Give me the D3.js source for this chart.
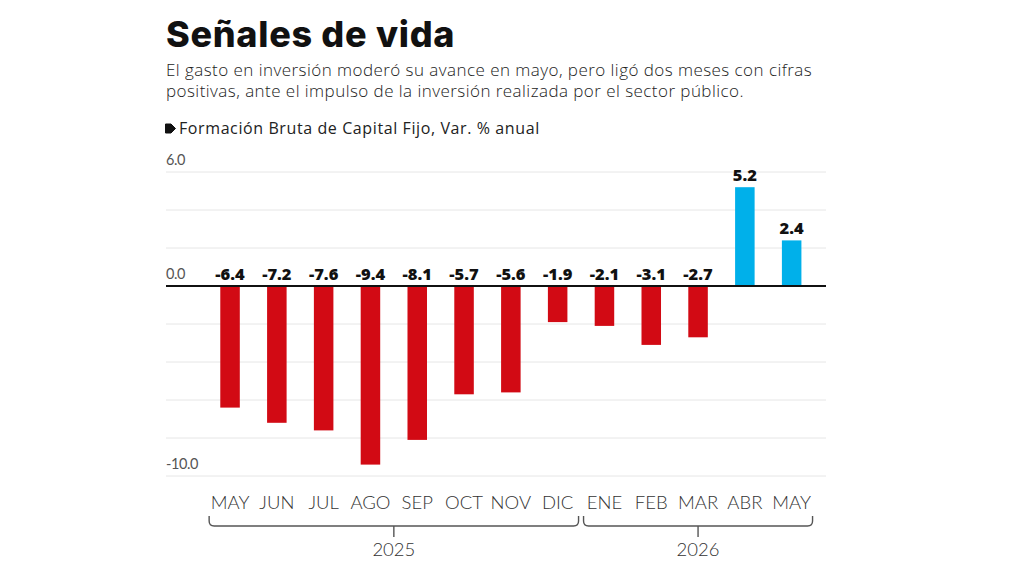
<!DOCTYPE html>
<html>
<head>
<meta charset="utf-8">
<script src="https://cdn.jsdelivr.net/npm/d3@7"></script>
<style>
  html, body { margin: 0; padding: 0; background: #fff; }
  svg { display: block; }
</style>
</head>
<body>
<svg id="chart" width="1024" height="576"></svg>
<script>
// ---- data ----
const months = ["MAY","JUN","JUL","AGO","SEP","OCT","NOV","DIC","ENE","FEB","MAR","ABR","MAY"];
const years  = ["2025","2025","2025","2025","2025","2025","2025","2025","2026","2026","2026","2026","2026"];
const values = [-6.4,-7.2,-7.6,-9.4,-8.1,-5.7,-5.6,-1.9,-2.1,-3.1,-2.7,5.2,2.4];
const yTicks = [6,4,2,0,-2,-4,-6,-8,-10];
const yLabelTicks = [6,0,-10];
const yearGroups = ["2025","2026"];

const title = "Señales de vida";
const subtitle = [
  "El gasto en inversión moderó su avance en mayo, pero ligó dos meses con cifras",
  "positivas, ante el impulso de la inversión realizada por el sector público."
];
const legendLabel = "Formación Bruta de Capital Fijo, Var. % anual";

// ---- layout ----
const svg = d3.select("#chart");
const left = 166, right = 826;
const fontTitle = "Inter, 'Noto Sans', sans-serif";
const fontBody = "'Open Sans', 'Noto Sans', sans-serif";
const fontAxis = "Lato, 'Open Sans', sans-serif";

const keys = months.map((m, i) => i);
const x = d3.scaleBand().domain(keys).range([193, 828.7]).padding(0.583);
const y = d3.scaleLinear().domain([-10, 6]).range([476, 172]);

// title
svg.append("text").attr("x", left).attr("y", 47)
  .attr("font-family", fontTitle).attr("font-weight", 800)
  .attr("font-size", 36).attr("fill", "#111").attr("letter-spacing", 0.7)
  .text(title);

svg.append("g").selectAll("text").data(subtitle).join("text")
  .attr("x", left).attr("y", (d, i) => 76 + i * 21)
  .attr("font-family", fontBody).attr("font-weight", 300)
  .attr("font-size", 17).attr("fill", "#222").attr("letter-spacing", 0.45)
  .text(d => d);

// legend
svg.append("path")
  .attr("d", "M165.5,124 H171 L175.5,128.5 L171,133 H165.5 Z")
  .attr("fill", "#111").attr("stroke", "#111").attr("stroke-linejoin", "round").attr("stroke-width", 1);
svg.append("text").attr("x", 179).attr("y", 133.5)
  .attr("font-family", fontBody).attr("font-weight", 500)
  .attr("font-size", 16).attr("fill", "#222").attr("letter-spacing", 0.6)
  .text(legendLabel);

// grid
svg.append("g").selectAll("line").data(yTicks.filter(t => t !== 0)).join("line")
  .attr("x1", left).attr("x2", right)
  .attr("y1", d => y(d)).attr("y2", d => y(d))
  .attr("stroke", "#e6e6e6").attr("stroke-width", 1);

// y labels
svg.append("g").selectAll("text").data(yLabelTicks).join("text")
  .attr("x", left).attr("y", d => y(d) - 7)
  .attr("font-family", fontAxis).attr("font-weight", 400)
  .attr("font-size", 14.5).attr("fill", "#555").attr("letter-spacing", -0.4)
  .text(d => d.toFixed(1));

// bars
svg.append("g").selectAll("rect").data(values).join("rect")
  .attr("x", (d, i) => x(i))
  .attr("width", x.bandwidth())
  .attr("y", d => y(Math.max(0, d)))
  .attr("height", d => Math.abs(y(d) - y(0)))
  .attr("fill", d => d < 0 ? "#d20a14" : "#00b0ea");

// zero line
svg.append("line").attr("x1", left).attr("x2", right)
  .attr("y1", y(0)).attr("y2", y(0))
  .attr("stroke", "#111").attr("stroke-width", 2);

// value labels
svg.append("g").selectAll("text").data(values).join("text")
  .attr("x", (d, i) => x(i) + x.bandwidth() / 2)
  .attr("y", d => d < 0 ? y(0) - 6 : y(d) - 6)
  .attr("text-anchor", "middle")
  .attr("font-family", fontBody).attr("font-weight", 800)
  .attr("font-size", 16.5).attr("fill", "#111")
  .text(d => d.toFixed(1));

// month labels
svg.append("g").selectAll("text").data(months).join("text")
  .attr("x", (d, i) => x(i) + x.bandwidth() / 2)
  .attr("y", 509)
  .attr("text-anchor", "middle")
  .attr("font-family", fontAxis).attr("font-weight", 300)
  .attr("font-size", 18.5).attr("fill", "#333")
  .text(d => d);

// year brackets
const step = x.step();
yearGroups.forEach(yr => {
  const idx = keys.filter(i => years[i] === yr);
  const x0 = x(idx[0]) + x.bandwidth() / 2 - step / 2 + 2.5;
  const x1 = x(idx[idx.length - 1]) + x.bandwidth() / 2 + step / 2 - 2.5;
  const top = 516, base = 526, r = 5;
  const g = svg.append("g").attr("fill", "none").attr("stroke", "#555").attr("stroke-width", 1.4);
  g.append("path").attr("d",
    `M${x0},${top} V${base - r} Q${x0},${base} ${x0 + r},${base} H${x1 - r} Q${x1},${base} ${x1},${base - r} V${top}`);
  const mid = (x0 + x1) / 2;
  g.append("line").attr("x1", mid).attr("x2", mid).attr("y1", base).attr("y2", 537);
  svg.append("text").attr("x", mid).attr("y", 556).attr("text-anchor", "middle")
    .attr("font-family", fontAxis).attr("font-weight", 300)
    .attr("font-size", 18.5).attr("fill", "#333")
    .text(yr);
});
</script>
</body>
</html>
